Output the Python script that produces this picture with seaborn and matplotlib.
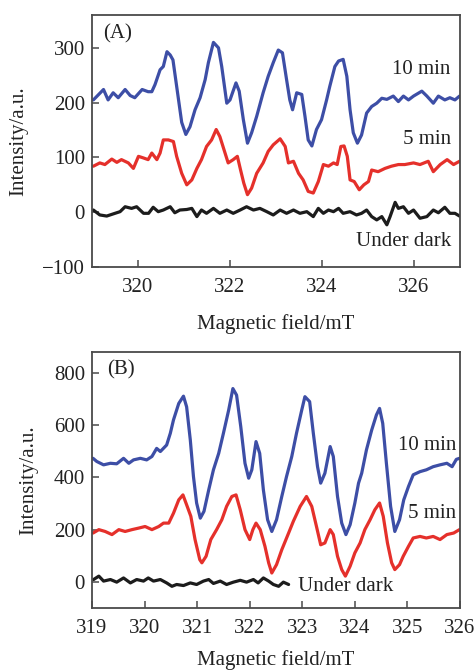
import numpy as np
import pandas as pd
import matplotlib
matplotlib.use("Agg")
import matplotlib.pyplot as plt
import seaborn as sns

# ---------------- Panel A: EPR spectra (field in mT, intensity in a.u.) ----------------
a_10min_x = [319.03, 319.25, 319.35, 319.46, 319.57, 319.72, 319.83, 319.93, 320.09, 320.22,
             320.30, 320.37, 320.48, 320.55, 320.63, 320.70, 320.76, 320.85, 320.95, 321.04,
             321.13, 321.24, 321.35, 321.46, 321.53, 321.64, 321.75, 321.82, 321.93, 322.00,
             322.13, 322.20, 322.29, 322.38, 322.47, 322.58, 322.72, 322.83, 322.94, 323.05,
             323.14, 323.23, 323.30, 323.36, 323.45, 323.56, 323.63, 323.70, 323.78, 323.88,
             323.99, 324.10, 324.17, 324.28, 324.36, 324.46, 324.54, 324.61, 324.68, 324.77,
             324.86, 324.97, 325.08, 325.19, 325.30, 325.41, 325.55, 325.66, 325.77, 325.88,
             325.99, 326.17, 326.28, 326.42, 326.53, 326.67, 326.78, 326.89, 326.99]
a_10min_y = [205, 224, 205, 218, 209, 224, 213, 209, 224, 220,
             220, 233, 260, 266, 293, 287, 278, 224, 164, 142,
             156, 187, 209, 242, 273, 310, 300, 266, 199, 205,
             236, 221, 169, 126, 145, 175, 218, 248, 273, 296,
             291, 242, 205, 187, 218, 215, 175, 132, 121, 151,
             169, 205, 230, 266, 276, 279, 248, 187, 145, 126,
             141, 181, 193, 199, 208, 206, 212, 202, 212, 205,
             212, 221, 212, 199, 212, 205, 209, 205, 212]

a_5min_x = [319.03, 319.17, 319.28, 319.43, 319.54, 319.64, 319.79, 319.90, 320.01, 320.12,
            320.22, 320.30, 320.41, 320.48, 320.55, 320.66, 320.77, 320.84, 320.95, 321.06,
            321.17, 321.28, 321.38, 321.49, 321.60, 321.70, 321.78, 321.87, 321.96, 322.07,
            322.16, 322.23, 322.30, 322.38, 322.47, 322.58, 322.72, 322.83, 322.94, 323.09,
            323.20, 323.27, 323.38, 323.49, 323.59, 323.70, 323.81, 323.92, 324.03, 324.14,
            324.25, 324.33, 324.41, 324.48, 324.55, 324.61, 324.70, 324.81, 324.91, 325.01,
            325.08, 325.22, 325.37, 325.51, 325.66, 325.80, 325.99, 326.13, 326.31, 326.42,
            326.57, 326.72, 326.86, 326.99]
a_5min_y = [84, 90, 87, 97, 91, 96, 90, 80, 102, 99,
            96, 108, 96, 108, 132, 132, 129, 102, 71, 50,
            59, 80, 96, 120, 132, 151, 138, 114, 90, 96,
            102, 77, 53, 32, 44, 71, 90, 111, 123, 134,
            120, 90, 93, 71, 59, 38, 35, 56, 87, 84,
            90, 87, 120, 121, 102, 59, 56, 41, 50, 56,
            77, 74, 80, 84, 87, 87, 90, 87, 93, 74,
            87, 96, 87, 93]

a_dark_x = [319.03, 319.17, 319.32, 319.50, 319.61, 319.72, 319.86, 319.97, 320.12, 320.23,
            320.33, 320.44, 320.55, 320.70, 320.80, 320.91, 321.06, 321.17, 321.28, 321.38,
            321.49, 321.64, 321.78, 321.93, 322.07, 322.22, 322.36, 322.51, 322.65, 322.80,
            322.94, 323.09, 323.23, 323.38, 323.52, 323.67, 323.81, 323.92, 324.03, 324.14,
            324.25, 324.36, 324.46, 324.61, 324.75, 324.86, 324.97, 325.08, 325.19, 325.30,
            325.41, 325.48, 325.59, 325.66, 325.77, 325.88, 325.99, 326.13, 326.28, 326.42,
            326.53, 326.67, 326.78, 326.89, 326.99]
a_dark_y = [4, -5, -7, -2, 1, 10, 7, 10, -2, -2,
            9, 1, 4, 10, -1, 4, 5, 7, -8, 4,
            -2, 7, -2, 4, -2, 4, 10, 4, 7, 1,
            -5, 4, -2, 4, -2, 1, -8, 7, -2, 4,
            1, 7, -2, 1, -5, -2, 4, -8, -14, -8,
            -23, -8, 18, 7, 10, -2, 4, -11, -8, 4,
            -1, 9, -2, -2, -7]

# ---------------- Panel B ----------------
b_10min_x = [319.02, 319.09, 319.22, 319.35, 319.47, 319.60, 319.70, 319.79, 319.92, 320.04,
             320.14, 320.23, 320.30, 320.42, 320.49, 320.55, 320.65, 320.74, 320.80, 320.87,
             320.93, 320.99, 321.06, 321.13, 321.22, 321.31, 321.41, 321.50, 321.60, 321.68,
             321.75, 321.83, 321.91, 321.98, 322.04, 322.12, 322.19, 322.26, 322.34, 322.42,
             322.51, 322.61, 322.70, 322.80, 322.89, 322.99, 323.05, 323.14, 323.21, 323.29,
             323.35, 323.43, 323.53, 323.59, 323.67, 323.75, 323.83, 323.91, 324.00, 324.07,
             324.13, 324.22, 324.32, 324.41, 324.47, 324.53, 324.60, 324.68, 324.76, 324.85,
             324.93, 325.02, 325.11, 325.24, 325.36, 325.49, 325.62, 325.75, 325.85, 325.93,
             325.99]
b_10min_y = [473, 461, 448, 454, 452, 473, 454, 467, 473, 467,
             480, 511, 499, 524, 569, 620, 683, 711, 670, 543,
             403, 302, 244, 270, 352, 429, 492, 569, 658, 740,
             715, 594, 454, 397, 429, 537, 492, 352, 238, 193,
             238, 327, 403, 480, 569, 658, 709, 690, 569, 441,
             378, 416, 518, 480, 327, 225, 181, 219, 302, 378,
             416, 505, 581, 639, 664, 607, 454, 289, 193, 238,
             314, 365, 410, 422, 429, 441, 448, 454, 441, 469,
             473]

b_5min_x = [319.02, 319.13, 319.25, 319.38, 319.51, 319.63, 319.76, 319.89, 320.01, 320.14,
            320.27, 320.36, 320.46, 320.55, 320.65, 320.73, 320.80, 320.88, 320.96, 321.05,
            321.09, 321.17, 321.26, 321.37, 321.47, 321.56, 321.66, 321.74, 321.82, 321.91,
            322.00, 322.06, 322.12, 322.20, 322.29, 322.36, 322.42, 322.51, 322.61, 322.74,
            322.83, 322.96, 323.08, 323.18, 323.27, 323.35, 323.43, 323.53, 323.59, 323.67,
            323.75, 323.82, 323.91, 324.00, 324.10, 324.19, 324.29, 324.38, 324.47, 324.54,
            324.62, 324.70, 324.76, 324.85, 324.92, 325.02, 325.11, 325.24, 325.36, 325.49,
            325.62, 325.75, 325.88, 325.99]
b_5min_y = [187, 200, 193, 181, 200, 193, 200, 206, 212, 200,
            212, 225, 225, 263, 314, 333, 295, 251, 162, 85,
            73, 98, 162, 200, 238, 289, 327, 333, 276, 200,
            162, 200, 225, 200, 136, 73, 34, 66, 123, 187,
            232, 289, 327, 289, 212, 142, 149, 200, 181, 98,
            47, 22, 60, 111, 149, 200, 238, 276, 302, 251,
            149, 73, 47, 66, 98, 136, 168, 174, 168, 174,
            162, 181, 187, 200]

b_dark_x = [319.03, 319.13, 319.22, 319.35, 319.47, 319.60, 319.73, 319.85, 319.98, 320.07,
            320.17, 320.30, 320.42, 320.52, 320.61, 320.74, 320.87, 320.99, 321.12, 321.22,
            321.31, 321.44, 321.56, 321.69, 321.82, 321.94, 322.07, 322.16, 322.26, 322.36,
            322.45, 322.55, 322.64, 322.74]
b_dark_y = [9, 22, 3, 9, -1, 15, -4, 9, 3, 15,
            3, 9, -4, -17, -10, -14, -4, -10, 3, 9,
            -6, 3, -10, -1, 6, -1, 9, -4, 15, 3,
            -10, -17, -1, -10]

BLUE = "#3d4ea6"
RED = "#e5302b"
BLACK = "#1c1c1c"

sns.set_theme(style="ticks")
plt.rcParams["font.family"] = ["Liberation Serif", "DejaVu Serif"]
FS = 15

fig = plt.figure(figsize=(4.76, 6.71), dpi=100)
axA = fig.add_axes([92 / 476, 1 - 267 / 671, 368 / 476, 252 / 671])
axB = fig.add_axes([92 / 476, 1 - 608 / 671, 368 / 476, 256 / 671])


def frame(df_parts):
    return pd.concat([pd.DataFrame({"field": x, "intensity": y, "series": name})
                      for name, x, y in df_parts], ignore_index=True)


palette = {"10 min": BLUE, "5 min": RED, "Under dark": BLACK}

dfA = frame([("10 min", a_10min_x, a_10min_y),
             ("5 min", a_5min_x, a_5min_y),
             ("Under dark", a_dark_x, a_dark_y)])
dfB = frame([("10 min", b_10min_x, b_10min_y),
             ("5 min", b_5min_x, b_5min_y),
             ("Under dark", b_dark_x, b_dark_y)])

for ax, df in ((axA, dfA), (axB, dfB)):
    sns.lineplot(data=df, x="field", y="intensity", hue="series", palette=palette,
                 estimator=None, sort=False, linewidth=2.3, legend=False, ax=ax)
    for ln in ax.get_lines():
        ln.set_solid_joinstyle("round")
        ln.set_solid_capstyle("round")

axA.set_xlim(319, 327)
axA.set_ylim(-100, 360)
axA.set_xticks([320, 322, 324, 326])
axA.set_yticks([-100, 0, 100, 200, 300])

axB.set_xlim(319, 326)
axB.set_ylim(-100, 880)
axB.set_xticks([319, 320, 321, 322, 323, 324, 325, 326])
axB.set_yticks([0, 200, 400, 600, 800])

for ax in (axA, axB):
    for s in ax.spines.values():
        s.set_visible(True)
        s.set_color("#4a4a4a")
        s.set_linewidth(1.3)
    ax.tick_params(direction="in", length=5, width=1.1, color="#4a4a4a",
                   labelsize=FS, labelcolor="#222222")
    ax.tick_params(axis="x", pad=8)
    ax.tick_params(axis="y", pad=5)
    ax.set_xlabel("Magnetic field/mT", fontsize=FS, color="#222222")
    ax.set_ylabel("Intensity/a.u.", fontsize=FS, color="#222222")

axA.xaxis.set_label_coords(0.5, -0.185)
axA.yaxis.set_label_coords(-0.172, 0.5)
axB.xaxis.set_label_coords(0.5, -0.163)
axB.yaxis.set_label_coords(-0.147, 0.5)

txt = dict(fontsize=FS, color="#222222")
axA.text(0.03, 0.925, "(A)", transform=axA.transAxes, ha="left", va="center", **txt)
axA.text(0.975, 0.785, "10 min", transform=axA.transAxes, ha="right", va="center", **txt)
axA.text(0.975, 0.505, "5 min", transform=axA.transAxes, ha="right", va="center", **txt)
axA.text(0.975, 0.1, "Under dark", transform=axA.transAxes, ha="right", va="center", **txt)

axB.text(0.04, 0.93, "(B)", transform=axB.transAxes, ha="left", va="center", **txt)
axB.text(0.99, 0.635, "10 min", transform=axB.transAxes, ha="right", va="center", **txt)
axB.text(0.99, 0.37, "5 min", transform=axB.transAxes, ha="right", va="center", **txt)
axB.text(0.56, 0.085, "Under dark", transform=axB.transAxes, ha="left", va="center", **txt)

fig.savefig("out.png", dpi=100)
